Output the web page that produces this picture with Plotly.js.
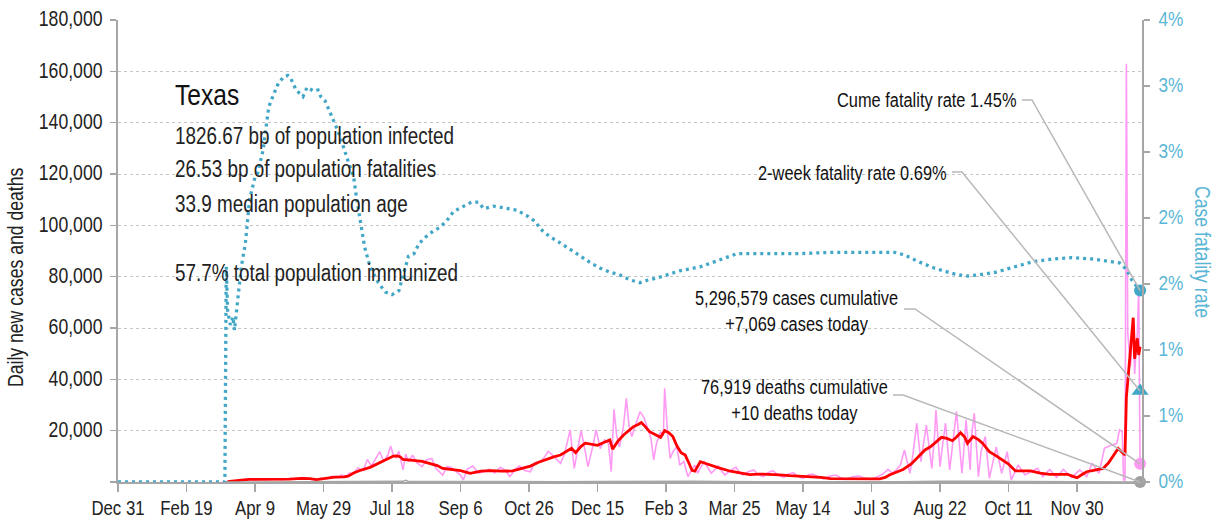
<!DOCTYPE html>
<html><head><meta charset="utf-8">
<script src="https://cdn.plot.ly/plotly-3.0.1.min.js"></script>
<style>html,body{margin:0;padding:0;background:#fff}#chart{width:1213px;height:522px}</style>
</head><body><div id="chart"></div>
<script>
// ---------- data (day offsets from Dec 31, 2019) ----------
const xTickStep = 50; // days between x ticks
const cfrDays = [0,78,79,80,82,84,85,87,88,90,93,96,100,102,106,108,110,113,117,121,124,126,130,135,138,143,146,148,151,154,157,162,167,172,174,178,180,184,190,195,200,205,208,212,216,220,225,230,235,240,245,252,258,263,267,274,284,291,298,305,308,315,323,330,337,345,352,359,366,374,381,387,395,403,410,425,438,452,472,497,522,547,567,574,584,596,609,619,629,641,654,668,683,696,711,723,731,736,740,746];
const cfrPct  = [0,0,1.63,1.30,1.19,1.25,1.15,1.33,1.45,1.63,1.81,2.14,2.31,2.34,2.52,2.69,2.84,2.92,3.02,3.07,3.08,3.06,2.97,2.92,2.99,2.96,2.97,2.92,2.89,2.82,2.74,2.62,2.46,2.31,2.16,1.93,1.78,1.63,1.51,1.44,1.42,1.45,1.56,1.71,1.73,1.81,1.86,1.90,1.93,1.98,2.05,2.09,2.12,2.12,2.07,2.09,2.07,2.06,2.02,1.97,1.92,1.86,1.81,1.76,1.71,1.66,1.62,1.59,1.57,1.53,1.51,1.53,1.55,1.58,1.60,1.63,1.68,1.73,1.73,1.73,1.74,1.74,1.74,1.72,1.67,1.62,1.58,1.56,1.57,1.59,1.63,1.67,1.69,1.70,1.69,1.67,1.66,1.61,1.53,1.45];

const avgDays = [80,86,90,96,110,125,134,140,145,150,158,165,168,172,176,184,190,194,199,201,204,206,208,212,217,222,228,233,237,243,250,257,265,272,280,288,295,301,307,313,318,323,328,331,334,338,341,345,350,355,359,361,365,369,373,376,380,382,385,388,392,396,399,402,405,408,411,414,417,419,421,425,429,432,438,447,455,461,468,476,483,490,498,505,513,520,530,539,548,556,560,563,568,573,579,585,589,593,597,601,605,609,612,615,618,620,624,628,631,634,636,641,646,650,655,660,666,673,680,687,693,697,700,704,707,712,719,723,726,730,733,735,736,738,741,742,744,745,746];
const avgCases = [100,300,700,1000,1000,1100,1400,1300,900,1200,1900,2000,2300,3500,4400,5700,7200,8200,9500,10100,10200,9800,8800,8700,8300,8000,7000,6400,5300,4800,4400,3400,4200,4400,4200,4300,5200,6200,7700,9000,9800,10500,12000,13100,11400,13900,15100,14700,14300,15500,16400,12800,16000,18300,20000,21500,22500,23200,21500,19600,18500,17400,20000,19200,17700,14000,11400,10500,7000,4500,4200,7900,7200,6600,5600,4200,3300,2900,3100,3000,2800,2500,2300,2100,1800,1300,1300,1200,1300,1200,1800,2700,3800,4900,7000,10500,12500,13700,15500,17400,17000,16100,17500,19200,17500,15100,17700,16500,15100,13000,11800,10200,8600,7000,4300,4300,4300,3500,3000,3000,3000,2200,1700,3000,4000,4500,5300,7500,9900,13100,11500,10500,33000,45000,64000,48000,56000,49500,52700];

const dailyDays = [76,80,85,90,95,100,105,110,115,120,125,130,134,138,142,145,148,152,156,160,163,166,169,172,175,179,182,185,188,191,194,197,199,201,203,205,208,210,212,215,218,222,225,229,232,237,240,243,247,250,252,255,259,263,267,271,275,279,283,286,290,293,297,301,304,308,311,314,317,320,323,326,330,333,336,338,341,343,347,349,352,355,358,360,362,364,366,369,371,373,375,378,381,384,386,389,391,393,396,398,399,401,403,405,408,410,413,416,418,421,423,425,428,431,433,436,438,441,443,447,451,454,456,460,464,467,471,474,478,482,486,489,493,496,500,504,507,511,515,519,524,528,532,536,541,545,549,553,558,562,565,568,571,574,578,580,583,586,588,590,594,596,597,600,602,604,607,609,612,616,618,619,622,623,625,628,630,633,636,639,641,645,647,649,652,655,657,662,666,671,675,680,685,690,696,702,707,711,716,720,725,729,731,733,734,735,736,737,739,741,742,743,744,745,746];
const dailyCases = [0,200,600,900,1100,900,1100,1000,1200,900,1300,1100,1700,1300,1000,700,1500,1200,2200,1700,2800,2100,3500,3300,5500,4500,8800,6200,9000,11800,8000,10500,14000,10500,9500,12000,4700,10900,7900,10500,7500,6000,8600,9200,5300,2700,6000,5700,4000,2700,800,5000,6200,3500,4000,5000,3500,5700,4500,2100,5000,6200,4500,4000,7500,7900,9500,12000,10500,9000,7300,11000,20300,5300,14000,20000,12000,6000,15000,20300,13000,16400,15000,4000,28300,18000,13700,22000,32600,22000,17700,23000,27400,25000,21500,17000,8600,15000,19600,18000,36500,20000,9200,11800,13700,6600,8000,2100,4000,6600,3400,5500,7900,5000,3400,5000,6200,4000,2700,4500,5700,3500,2700,4000,4700,3000,2100,3500,4400,2600,1800,3000,3600,2200,1400,2800,3100,2000,1200,2200,2700,1500,1000,2000,2300,1500,1000,1800,3000,4900,3500,4700,6500,12500,3400,10000,22900,7900,15000,22200,5300,18000,28000,6000,15000,22900,4700,14000,27400,3400,16000,24200,4700,18000,26800,2100,12000,17700,1400,9000,13700,3400,8000,11800,800,4000,6600,2700,4000,5300,2100,4900,1800,4900,1800,4700,2100,7300,3400,13100,14400,15000,20300,19600,800,800,163000,58000,45000,62000,42000,50000,58000,75000,7069];

const deathDays = [78,100,130,170,190,208,210,212,230,260,290,320,350,380,400,420,440,470,500,540,570,600,620,640,660,690,720,746];
const dailyDeaths = [0,30,40,50,150,250,650,200,230,120,70,100,200,300,350,250,150,70,40,20,60,250,330,280,150,80,50,10];

const cumeCases = 5296579, todayCases = 7069, cumeDeaths = 76919, todayDeaths = 10;
const cumeCFR = 1.45, twoWeekCFR = 0.69;
const lastDay = 746;

const leftTicks = [0,20000,40000,60000,80000,100000,120000,140000,160000,180000];
const leftTickText = ['','20,000','40,000','60,000','80,000','100,000','120,000','140,000','160,000','180,000'];
const rightTicks = [0,0.5,1,1.5,2,2.5,3,3.5];
const rightTickText = ['0%','1%','1%','2%','2%','3%','3%','4%'];

const infoLines = ['1826.67 bp of population infected','26.53 bp of population fatalities','33.9 median population age','57.7% total population immunized'];

// ---------- helpers ----------
const T0 = Date.UTC(2019,11,31);
function dayToDate(d){ return new Date(T0 + d*86400000).toISOString().replace('T',' ').slice(0,19); }
const fmt = n => n.toLocaleString('en-US');

const FONT = '"Liberation Sans",Arial,sans-serif';
const NARROW = 0.82;              // horizontal condensing applied after layout
const CYAN = '#42a7c7', CYAN_TXT = '#5ab6d5', PINK = '#ff9af4', RED = '#ff0000', GRAY = '#a6a6a6', LEAD = '#b8b8b8';

const rangeEndDay = 747.4;
const plotL = 118, plotT = 20, plotW = 1024, plotH = 462;
const px = x => (x - plotL)/plotW;
const py = y => (plotT + plotH - y)/plotH;

const traces = [
  {x: dailyDays.map(dayToDate), y: dailyCases, type:'scatter', mode:'lines', line:{color:PINK, width:1.6}, hoverinfo:'skip'},
  {x: avgDays.map(dayToDate), y: avgCases, type:'scatter', mode:'lines', line:{color:RED, width:2.8}, hoverinfo:'skip'},
  {x: deathDays.map(dayToDate), y: dailyDeaths, type:'scatter', mode:'lines', line:{color:GRAY, width:1.5}, hoverinfo:'skip'},
  {x: cfrDays.map(dayToDate), y: cfrPct, type:'scatter', mode:'lines', yaxis:'y2', line:{color:CYAN, width:3.3, dash:'3px,4px'}, hoverinfo:'skip', name:'cfr'},
  {x: [dayToDate(lastDay)], y: [todayDeaths], type:'scatter', mode:'markers', marker:{color:'#a0a0a0', size:12}, cliponaxis:false},
  {x: [dayToDate(lastDay)], y: [todayCases], type:'scatter', mode:'markers', marker:{color:PINK, size:12}, cliponaxis:false},
  {x: [dayToDate(lastDay)], y: [twoWeekCFR], yaxis:'y2', type:'scatter', mode:'markers', marker:{color:CYAN, size:15, symbol:'triangle-up'}, cliponaxis:false},
  {x: [dayToDate(lastDay)], y: [cumeCFR], yaxis:'y2', type:'scatter', mode:'markers', marker:{color:CYAN, size:12}, cliponaxis:false}
];

const endX = lastDay / rangeEndDay;
function leader(x1, y1, x2, yEnd){
  return {type:'path', xref:'paper', yref:'paper', layer:'above',
    path:`M ${px(x1)},${py(y1)} L ${px(x2)},${py(y1)} L ${endX},${yEnd}`,
    line:{color:LEAD, width:1.5}};
}
const S = v => v*NARROW; // layout font size for a condensed target size

const annotations = [
  {text:'Texas', x:px(173), y:py(97), xref:'paper', yref:'paper', xanchor:'left', yanchor:'middle', showarrow:false, font:{size:S(30), color:'#111'}},
  ...infoLines.map((t,i) => ({text:t, x:px(173), y:py([137,170,205,274][i]), xref:'paper', yref:'paper', xanchor:'left', yanchor:'middle', showarrow:false, font:{size:S(23), color:'#222'}})),
  {text:`Cume fatality rate ${cumeCFR.toFixed(2)}%`, x:px(1018), y:py(101), xref:'paper', yref:'paper', xanchor:'right', yanchor:'middle', showarrow:false, font:{size:S(20), color:'#111'}},
  {text:`2-week fatality rate ${twoWeekCFR.toFixed(2)}%`, x:px(949), y:py(174), xref:'paper', yref:'paper', xanchor:'right', yanchor:'middle', showarrow:false, font:{size:S(20), color:'#111'}},
  {text:`${fmt(cumeCases)} cases cumulative<br>+${fmt(todayCases)} cases today`, x:px(796), y:py(309), xref:'paper', yref:'paper', xanchor:'center', yanchor:'middle', align:'center', showarrow:false, font:{size:S(20), color:'#111'}},
  {text:`${fmt(cumeDeaths)} deaths cumulative<br>+${fmt(todayDeaths)} deaths today`, x:px(794), y:py(398), xref:'paper', yref:'paper', xanchor:'center', yanchor:'middle', align:'center', showarrow:false, font:{size:S(20), color:'#111'}},
  {text:'Daily new cases and deaths', x:px(17), y:py(278), xref:'paper', yref:'paper', xanchor:'center', yanchor:'middle', textangle:-90, showarrow:false, font:{size:S(21.5), color:'#222'}},
  {text:'Case fatality rate', x:px(1201), y:py(252), xref:'paper', yref:'paper', xanchor:'center', yanchor:'middle', textangle:90, showarrow:false, font:{size:S(21.5), color:CYAN_TXT}}
];

const shapes = [
  leader(1022, 100, 1032, cumeCFR/3.5),
  leader(952, 172, 962, twoWeekCFR/3.5),
  leader(904, 309, 915, todayCases/180000),
  leader(893, 395, 903, todayDeaths/180000)
];

const layout = {
  width:1213, height:522, margin:{l:plotL, r:1213-plotL-plotW, t:plotT, b:522-plotT-plotH, pad:0},
  paper_bgcolor:'#fff', plot_bgcolor:'#fff', showlegend:false,
  font:{family:FONT, size:S(20), color:'#222'},
  xaxis:{type:'date', range:[dayToDate(0), dayToDate(rangeEndDay)], tickmode:'linear', tick0:dayToDate(0), dtick:xTickStep*86400000,
    tickformat:'%b %-d', showgrid:false, zeroline:false, showline:true, linecolor:GRAY, linewidth:2, ticklabelstandoff:3,
    ticks:'outside', ticklen:8, tickwidth:1.5, tickcolor:GRAY, tickfont:{size:S(20.5), color:'#222'}},
  yaxis:{range:[0,180000], tickmode:'array', tickvals:leftTicks, ticktext:leftTickText, showgrid:true, gridcolor:'#c6c6c6', griddash:'dot', gridwidth:1,
    zeroline:false, showline:true, linecolor:GRAY, linewidth:2, ticks:'outside', ticklen:6, tickwidth:1.5, tickcolor:GRAY, ticklabelstandoff:4, tickfont:{size:S(21.5), color:'#222'}},
  yaxis2:{overlaying:'y', side:'right', range:[0,3.5], tickmode:'array', tickvals:rightTicks, ticktext:rightTickText, showgrid:false, zeroline:false,
    showline:true, linecolor:GRAY, linewidth:2, ticks:'outside', ticklen:6, tickwidth:1.5, tickcolor:GRAY, ticklabelstandoff:5, tickfont:{size:S(21), color:CYAN_TXT}},
  annotations, shapes
};

Plotly.newPlot('chart', traces, layout, {staticPlot:true, displayModeBar:false}).then(gd => {
  // condense every label horizontally: taller glyphs, same advance width (narrow face look)
  gd.querySelectorAll('svg text').forEach(t => {
    const fs = parseFloat(t.style.fontSize);
    if (!fs || !t.textContent.trim()) return;
    const lines = t.querySelectorAll('tspan.line');
    const targets = lines.length ? Array.from(lines) : [t];
    const widths = targets.map(el => el.getComputedTextLength());
    t.style.fontSize = (fs / NARROW) + 'px';
    targets.forEach((el, i) => {
      if (widths[i] > 0) { el.setAttribute('textLength', widths[i]); el.setAttribute('lengthAdjust', 'spacingAndGlyphs'); }
    });
  });
  // round dots for the fatality-rate line
  const cfrTrace = gd.querySelectorAll('.scatterlayer .trace')[3];
  if (cfrTrace) cfrTrace.querySelectorAll('path.js-line').forEach(p => {
    p.style.strokeLinecap = 'round';
    p.style.strokeDasharray = '0.1px,6.8px';
  });
});
</script></body></html>
